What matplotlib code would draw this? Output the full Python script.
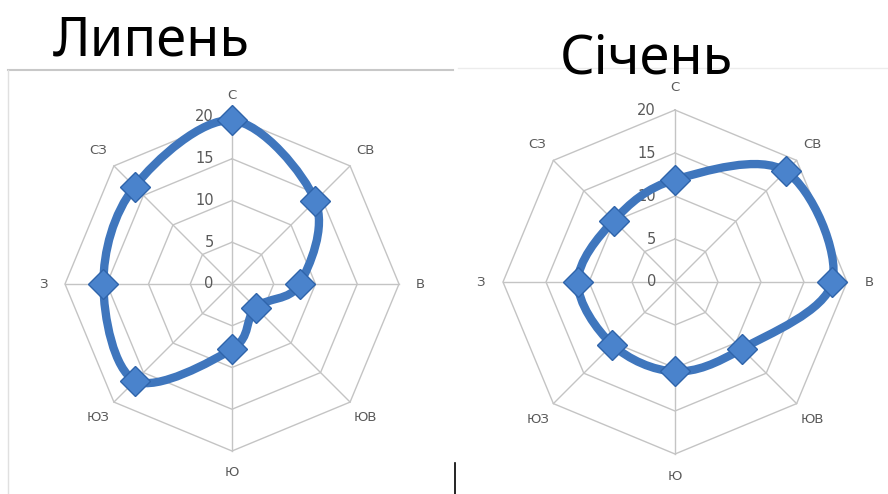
import numpy as np
import matplotlib
matplotlib.use("Agg")
import matplotlib.pyplot as plt
from matplotlib.path import Path
from matplotlib.patches import PathPatch
from matplotlib.lines import Line2D

plt.rcParams['font.family'] = ['Noto Sans', 'DejaVu Sans']

# напрямки вітру (за годинниковою стрілкою від півночі)
directions = ['С', 'СВ', 'В', 'ЮВ', 'Ю', 'ЮЗ', 'З', 'СЗ']
ticks = [0, 5, 10, 15, 20]

july_values = [19.6, 14.1, 8.1, 4.0, 7.8, 16.4, 15.4, 16.5]
january_values = [11.9, 18.2, 18.3, 11.0, 10.4, 10.3, 11.3, 10.1]

titles = ['Липень', 'Січень']

W, H = 888, 494
LINE_COLOR = '#3f76bd'
GRID_COLOR = '#c4c4c4'
TEXT_COLOR = '#595959'


def to_xy(values):
    ang = np.arange(len(values)) * 2 * np.pi / len(values)
    v = np.asarray(values, dtype=float)
    return v * np.sin(ang), v * np.cos(ang)


def smooth_path(x, y):
    # замкнена крива Безьє (як згладжена лінія Excel)
    pts = np.column_stack([x, y])
    n = len(pts)
    verts = [pts[0]]
    codes = [Path.MOVETO]
    for i in range(n):
        p0, p1, p2, p3 = pts[i - 1], pts[i], pts[(i + 1) % n], pts[(i + 2) % n]
        c1 = p1 + (p2 - p0) / 6.0
        c2 = p2 - (p3 - p1) / 6.0
        verts += [c1, c2, p2]
        codes += [Path.CURVE4] * 3
    return Path(verts, codes)


def draw_radar(ax, values):
    n = len(directions)
    lim = 24
    ax.set_xlim(-lim, lim)
    ax.set_ylim(-lim, lim)
    ax.set_aspect('equal')
    ax.axis('off')

    # сітка-восьмикутники
    for t in ticks[1:]:
        gx, gy = to_xy([t] * n)
        ax.plot(np.append(gx, gx[0]), np.append(gy, gy[0]), color=GRID_COLOR, lw=1.0, zorder=1)
    ox, oy = to_xy([ticks[-1]] * n)
    for i in range(n):
        ax.plot([0, ox[i]], [0, oy[i]], color=GRID_COLOR, lw=1.0, zorder=1)

    for t in ticks:
        ax.text(-2.2, t, str(t), ha='right', va='center', fontsize=10.5,
                color=TEXT_COLOR, family='DejaVu Sans', zorder=2)

    lx, ly = to_xy([22.6] * n)
    for i, d in enumerate(directions):
        ax.text(lx[i], ly[i], d, ha='center', va='center', fontsize=9.5,
                color=TEXT_COLOR, family='DejaVu Sans')

    x, y = to_xy(values)
    ax.add_patch(PathPatch(smooth_path(x, y), facecolor='none', edgecolor=LINE_COLOR,
                           lw=6, capstyle='round', joinstyle='round', zorder=3))
    ax.plot(x, y, ls='none', marker='D', markersize=15, markerfacecolor='#4a83cc',
            markeredgecolor='#2f64aa', markeredgewidth=1.0, zorder=4)


fig = plt.figure(figsize=(W / 100, H / 100), dpi=100)

# (центр x, центр y від верху, пікселів на одиницю)
panels = [(232, 284, 167 / 20), (675, 282, 172 / 20)]
for (cx, cy, ppu), vals in zip(panels, [july_values, january_values]):
    half = 24 * ppu
    ax = fig.add_axes([(cx - half) / W, 1 - (cy + half) / H, 2 * half / W, 2 * half / H])
    draw_radar(ax, vals)

fig.text(53 / W, 1 - 56 / H, titles[0], fontsize=39, ha='left', va='baseline', color='black')
fig.text(560 / W, 1 - 73 / H, titles[1], fontsize=39, ha='left', va='baseline', color='black')

# рамки областей діаграм
fig.add_artist(Line2D([8 / W, 453 / W], [1 - 70 / H, 1 - 70 / H], color='#c8c8c8', lw=1.5))
fig.add_artist(Line2D([8 / W, 8 / W], [1 - 70 / H, 0], color='#e0e0e0', lw=1.0))
fig.add_artist(Line2D([458 / W, 888 / W], [1 - 68 / H, 1 - 68 / H], color='#ececec', lw=1.0))
fig.add_artist(Line2D([455 / W, 455 / W], [1 - 463 / H, 0], color='black', lw=1.2))

fig.savefig('out.png', dpi=100)
